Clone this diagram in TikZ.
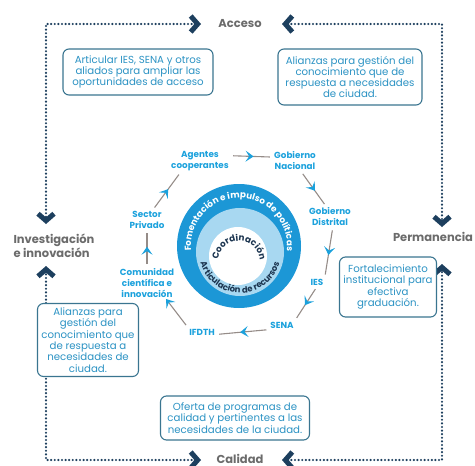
\documentclass[tikz,border=0pt]{standalone}
\usepackage{fontspec}
\setmainfont{Poppins}
\usetikzlibrary{arrows.meta,decorations.markings,decorations.text}

\definecolor{navyframe}{HTML}{1D3F5E}
\definecolor{labelgray}{HTML}{6B6B6B}
\definecolor{boxtext}{HTML}{2C93C4}
\definecolor{boxline}{HTML}{3A7590}
\definecolor{cyclecyan}{HTML}{1BA1DC}
\definecolor{ringdark}{HTML}{1C97D6}
\definecolor{ringlight}{HTML}{A8D8F1}
\definecolor{ringtext}{HTML}{1C3550}
\definecolor{linkgray}{HTML}{958C88}

\begin{document}
\begin{tikzpicture}[x=1pt, y=-1pt, thick,
	chev/.tip={Straight Barb[length=7pt,width=16pt,line width=5pt]},
	frame/.style={navyframe, line width=2.4pt, line cap=round, dash pattern=on 0pt off 3.6pt, chev-chev},
	lbl/.style={text=labelgray, font=\fontsize{11.5}{12.5}\selectfont\bfseries, inner sep=1pt},
	infobox/.style={draw=boxline, fill=white, line width=1.1pt, rounded corners=6pt, text=boxtext, font=\fontsize{10.2}{11.3}\selectfont, align=center, inner sep=2pt},
	actor/.style={text=cyclecyan, font=\fontsize{8.8}{11}\selectfont\bfseries, align=center, inner sep=1pt},
	link/.style={draw=linkgray, line width=1.1pt, shorten <=3pt, shorten >=3pt, postaction={decorate},
		decoration={markings, mark=at position #1 with {\arrow[color=cyclecyan]{Stealth[length=8pt,width=11pt,inset=3.5pt]}}}},
	link/.default=0.55]
	\useasboundingbox (0,0) rectangle (475,466);
	
	% frame labels
	\node[lbl] (acceso) at (240,24) {Acceso};
	\node[lbl, anchor=base, inner sep=0pt] (calidad) at (240,463) {Calidad};
	\node[lbl, align=left] (invest) at (54,246) {Investigación\\e innovación};
	\node[lbl] (perma) at (433,237) {Permanencia};
	
	% chevron tips of the dotted frame
	\coordinate (accW) at (201,24);
	\coordinate (accE) at (282,24);
	\coordinate (calW) at (201,460);
	\coordinate (calE) at (282,460);
	\coordinate (invN) at (46,224);
	\coordinate (invS) at (46,266);
	\coordinate (permN) at (442,227);
	\coordinate (permS) at (442,264);
	
	% dotted frame
	\draw[frame] (accW) -| (invN);
	\draw[frame] (accE) -| (permN);
	\draw[frame] (calW) -| (invS);
	\draw[frame] (calE) -| (permS);
	
	% boxes
	\node[infobox, minimum width=150pt, minimum height=46pt] (boxacc) at (138,72) {Articular IES, SENA y otros\\aliados para ampliar las\\oportunidades de acceso};
	\node[infobox, minimum width=144pt, minimum height=56pt] (boxcon) at (350,77) {Alianzas para gestión del\\conocimiento que de\\respuesta a necesidades\\de ciudad.};
	\node[infobox, minimum width=97pt, minimum height=60pt] (boxgrad) at (388,287) {Fortalecimiento\\institucional para\\efectiva\\graduación.};
	\node[infobox, minimum width=101pt, minimum height=73pt] (boxinv) at (88,340) {Alianzas para\\gestión del\\conocimiento que\\de respuesta a\\necesidades de\\ciudad.};
	\node[infobox, minimum width=149pt, minimum height=44pt] (boxcal) at (235,418) {Oferta de programas de\\calidad y pertinentes a las\\necesidades de la ciudad.};
	
	% rings
	\begin{scope}[shift={(239,246)}, y=1pt]
		\fill[ringdark] (0,0) circle (62);
		\fill[ringlight] (1,-6) circle (44);
		\fill[white] (-1,-10) circle (29);
		\path[decorate, decoration={text along path, text align=center,
			text={|\fontsize{8.8}{9}\selectfont\bfseries\color{white}|Fomentación e impulso de políticas}}]
			(205:48) arc[start angle=205, end angle=-25, radius=48];
		\path[decorate, decoration={text along path, text align=center,
			text={|\fontsize{8.8}{9}\selectfont\bfseries\color{ringtext}|Coordinación}}]
			([shift={(185:21)}]0,-16) arc[start angle=185, end angle=-5, radius=21];
		\path[decorate, decoration={text along path, text align=center,
			text={|\fontsize{8.5}{9}\selectfont\bfseries\color{ringtext}|Articulación de recursos}}]
			([shift={(180:41)}]1,-6) arc[start angle=180, end angle=360, radius=41];
	\end{scope}
	
	% actors
	\node[actor] (agentes) at (200,161) {Agentes\\cooperantes};
	\node[actor] (nacional) at (295,161) {Gobierno\\Nacional};
	\node[actor] (distrital) at (330,217) {Gobierno\\Distrital};
	\node[actor] (ies) at (317,282) {IES};
	\node[actor] (sena) at (282,325) {SENA};
	\node[actor] (ifdth) at (202,332) {IFDTH};
	\node[actor] (comunidad) at (147,283) {Comunidad\\científica e\\innovación};
	\node[actor] (privado) at (147,220) {Sector\\Privado};
	
	% cycle
	\foreach \a/\b in {agentes.10/nacional.170, nacional.-60/distrital.110, distrital.-75/ies.north east,
		ies.south/sena.north east, sena.-160/ifdth.-10, comunidad.north/privado.south, privado.60/agentes.-150}
		\draw[link] (\a) -- (\b);
	\draw[link=1] (ifdth.north west) -- (comunidad.-40);
\end{tikzpicture}
\end{document}
